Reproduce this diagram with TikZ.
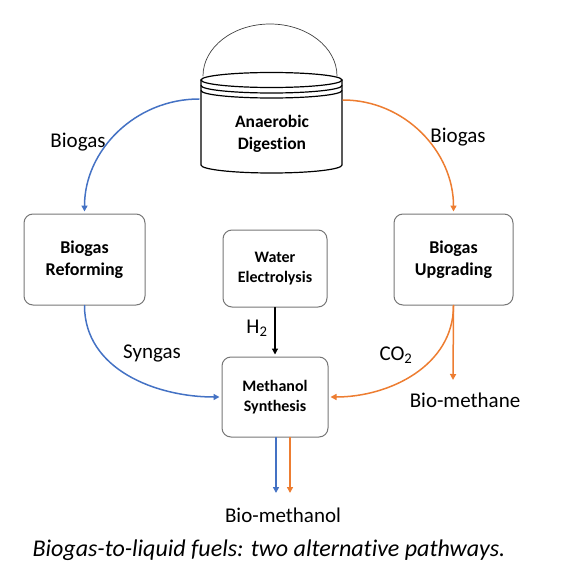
\documentclass[tikz,border=0pt]{standalone}
\usepackage{fontspec}
\setmainfont{Carlito}[Ligatures=NoCommon]
\usetikzlibrary{arrows.meta}
\definecolor{pblue}{RGB}{68,114,196}
\definecolor{porange}{RGB}{237,125,49}
\definecolor{frame}{RGB}{118,118,118}

\begin{document}
\begin{tikzpicture}[x=1pt,y=-1pt,>={Triangle[length=6pt,width=6pt]},line cap=round,
  box/.style={draw=frame,line width=1pt,rounded corners=9pt,align=center,inner sep=0pt,
    font=\fontsize{18}{22}\selectfont\bfseries},
  lbl/.style={inner sep=0pt,font=\fontsize{21}{25}\selectfont},
  flow/.style={->,line width=1.5pt,shorten >=2pt}]
\useasboundingbox (0,0) rectangle (577,586);
% digester tank
\draw[line width=0.7pt,black!75] (203,76) arc[start angle=180,end angle=360,x radius=67,y radius=52];
\draw[line width=1.2pt] (271.5,80) ellipse[x radius=70.5,y radius=7.5];
\draw[line width=1.2pt] (201,85.5) arc[start angle=180,end angle=0,x radius=70.5,y radius=7.5];
\draw[line width=1.2pt] (201,90.5) arc[start angle=180,end angle=0,x radius=70.5,y radius=7.5];
\draw[line width=1.2pt] (201,80) -- (201,165) arc[start angle=180,end angle=0,x radius=70.5,y radius=8] -- (342,80);
\node[box,draw=none,font=\fontsize{17.5}{22}\selectfont\bfseries] (digest) at (272,134) {Anaerobic\\Digestion};
\coordinate (tankL) at (199,99);
\coordinate (tankR) at (343,100);
% process boxes
\node[box,minimum width=121pt,minimum height=91pt] (reform) at (84.5,259.5) {Biogas\\Reforming};
\node[box,minimum width=119pt,minimum height=91pt] (upgr) at (453.5,259.5) {Biogas\\Upgrading};
\node[box,minimum width=104pt,minimum height=77pt,font=\fontsize{16}{20}\selectfont\bfseries] (elec) at (275,268.5) {Water\\Electrolysis};
\node[box,minimum width=106pt,minimum height=80pt,font=\fontsize{16}{20}\selectfont\bfseries] (meth) at (275,397) {Methanol\\Synthesis};
% labels
\node[lbl] (bgL) at (78,142) {Biogas};
\node[lbl] (bgR) at (458,137) {Biogas};
\node[lbl] (syn) at (152,353) {Syngas};
\node[lbl] (co2) at (396,355) {CO\textsubscript{2}};
\node[lbl] (h2) at (257,328) {H\textsubscript{2}};
\node[lbl] (bmeth) at (465,400) {Bio-methane};
\node[lbl] (bmol) at (283,515) {Bio-methanol};
\node[inner sep=0pt,font=\fontsize{24}{28}\selectfont\itshape] (cap) at (269,550) {Biogas-to-liquid fuels: two alternative pathways.};
\coordinate (bmtip) at (453,382);
\coordinate (outB) at (276,495);
\coordinate (outO) at (290,495);
% flows
\draw[flow,pblue] (tankL) to[out=180,in=90] (reform.north);
\draw[flow,porange] (tankR) to[out=0,in=90] (upgr.north);
\draw[flow,pblue] (reform.south) to[out=-90,in=180] (meth.west);
\draw[flow,porange] (upgr.south) to[out=-90,in=0] (meth.east);
\draw[flow,porange] (upgr.south) -- (bmtip);
\draw[flow,black,line width=1.2pt] (elec.south) -- (meth.north);
\draw[flow,pblue] ([xshift=1pt]meth.south) -- (outB);
\draw[flow,porange] ([xshift=15pt]meth.south) -- (outO);
\end{tikzpicture}
\end{document}
